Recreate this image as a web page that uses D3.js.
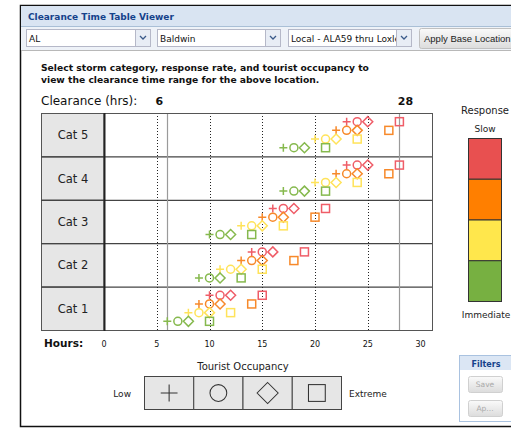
<!DOCTYPE html>
<html>
<head>
<meta charset="utf-8">
<title>Clearance Time Table Viewer</title>
<script src="https://cdn.jsdelivr.net/npm/d3@7"></script>
<style>
  body { margin: 0; background: #fff; font-family: "DejaVu Sans", Verdana, sans-serif; }
  svg text { font-family: "DejaVu Sans", Verdana, sans-serif; }
  svg text.narrow { font-family: "Liberation Sans", Arial, sans-serif; }
</style>
</head>
<body>
<script>
// storm categories, top to bottom
var categories = ["Cat 5", "Cat 4", "Cat 3", "Cat 2", "Cat 1"];
// response rates, slow (top of each row) to immediate (bottom)
var responses = ["Slow", "Moderate", "Fast", "Immediate"];
// tourist occupancy, low to extreme -> marker shape
var occupancy = ["Low", "Medium", "High", "Extreme"];
var hourTicks = [0, 5, 10, 15, 20, 25, 30];

// clearance hours: [response][occupancy]
var cat5 = [[23, 24, 25, 28], [22, 23, 24, 27], [20, 21, 22, 24], [17, 18, 19, 21]];
var cat4 = [[23, 24, 25, 28], [22, 23, 24, 27], [20, 21, 22, 24], [17, 18, 19, 21]];
var cat3 = [[16, 17, 18, 21], [15, 16, 17, 20], [13, 14, 15, 17], [10, 11, 12, 14]];
var cat2 = [[14, 15, 16, 19], [13, 14, 15, 18], [11, 12, 13, 15], [9, 10, 11, 13]];
var cat1 = [[10, 11, 12, 15], [9, 10, 11, 14], [8, 9, 10, 12], [6, 7, 8, 10]];
var clearance = [cat5, cat4, cat3, cat2, cat1];

var legendFill = ["#e85050", "#ff7f00", "#ffe74c", "#77b041"];
var markColor = ["#ef5d68", "#f7892a", "#ffe35a", "#86b94e"];

var width = 511, height = 429;
var svg = d3.select("body").append("svg")
  .attr("width", width).attr("height", height);
var defs = svg.append("defs");

// ---- window chrome ----
svg.append("rect").attr("x", 20.5).attr("y", 5.5).attr("width", 500).attr("height", 421)
  .attr("fill", "#fff").attr("stroke", "#111").attr("stroke-width", 1.5);
svg.append("rect").attr("x", 21).attr("y", 6).attr("width", 490).attr("height", 20)
  .attr("fill", "#d9e4f2");
svg.append("line").attr("x1", 21).attr("x2", 511).attr("y1", 26.5).attr("y2", 26.5).attr("stroke", "#a9bfd6");
svg.append("text").attr("x", 28).attr("y", 20).text("Clearance Time Table Viewer")
  .attr("font-size", 9).attr("font-weight", "bold").attr("fill", "#15428b");
svg.append("rect").attr("x", 21).attr("y", 27).attr("width", 490).attr("height", 23).attr("fill", "#eef2f8");
svg.append("line").attr("x1", 21).attr("x2", 511).attr("y1", 50.5).attr("y2", 50.5).attr("stroke", "#b8b8b8");

var combos = [
  { x: 26, w: 124, label: "AL" },
  { x: 157, w: 123, label: "Baldwin" },
  { x: 288, w: 123, label: "Local - ALA59 thru Loxley" }
];
combos.forEach(function(c, i) {
  var g = svg.append("g");
  defs.append("clipPath").attr("id", "cc" + i).append("rect")
    .attr("x", c.x + 1).attr("y", 29).attr("width", c.w - 16).attr("height", 18);
  g.append("rect").attr("x", c.x + 0.5).attr("y", 29.5).attr("width", c.w).attr("height", 17)
    .attr("fill", "#fff").attr("stroke", "#b5b8c8");
  g.append("rect").attr("x", c.x + c.w - 14.5).attr("y", 29.5).attr("width", 15).attr("height", 17)
    .attr("fill", "#e8edf5").attr("stroke", "#b5b8c8");
  g.append("path").attr("d", "M" + (c.x + c.w - 10) + ",36 l3,3 l3,-3")
    .attr("fill", "none").attr("stroke", "#3a5a8a").attr("stroke-width", 1.3);
  g.append("text").attr("x", c.x + 3).attr("y", 42).text(c.label)
    .attr("clip-path", "url(#cc" + i + ")")
    .attr("font-size", 9).attr("fill", "#111");
});
var grad = defs.append("linearGradient").attr("id", "btn").attr("x1", 0).attr("x2", 0).attr("y1", 0).attr("y2", 1);
grad.append("stop").attr("offset", 0).attr("stop-color", "#fafafa");
grad.append("stop").attr("offset", 1).attr("stop-color", "#dcdcdc");
svg.append("rect").attr("x", 419.5).attr("y", 28.5).attr("width", 100).attr("height", 20).attr("rx", 2)
  .attr("fill", "url(#btn)").attr("stroke", "#c0c0c0");
svg.append("text").attr("class", "narrow").attr("x", 424).attr("y", 42).text("Apply Base Location")
  .attr("font-size", 9.5).attr("fill", "#222");

// ---- instructions ----
svg.append("text").attr("x", 41).attr("y", 71).text("Select storm category, response rate, and tourist occupancy to")
  .attr("font-size", 9.2).attr("font-weight", "bold").attr("fill", "#111");
svg.append("text").attr("x", 41).attr("y", 83).text("view the clearance time range for the above location.")
  .attr("font-size", 9.2).attr("font-weight", "bold").attr("fill", "#111");

// ---- scales ----
var x = d3.scaleLinear().domain([0, 30]).range([104, 420.5]);
var y = d3.scaleBand().domain(categories).range([113, 330]);
var ySub = d3.scalePoint().domain(responses).range([0, y.bandwidth()]).padding(1);
var plotLeft = 104, plotRight = 432;

var allVals = clearance.flat(2);
var minC = d3.min(allVals), maxC = d3.max(allVals);

svg.append("text").attr("x", 41).attr("y", 105).text("Clearance (hrs):")
  .attr("font-size", 12).attr("fill", "#111");
svg.append("text").attr("x", x(minC) - 8).attr("y", 105).text(minC).attr("text-anchor", "middle")
  .attr("font-size", 11).attr("font-weight", "bold").attr("fill", "#111");
svg.append("text").attr("x", x(maxC) + 6).attr("y", 105).text(maxC).attr("text-anchor", "middle")
  .attr("font-size", 11).attr("font-weight", "bold").attr("fill", "#111");

// ---- category rows ----
var rows = svg.append("g");
rows.selectAll("rect.lab").data(categories).enter().append("rect")
  .attr("x", 41.5).attr("y", function(d) { return y(d) + 0.5; })
  .attr("width", plotLeft - 41.5).attr("height", y.bandwidth())
  .attr("fill", "#e6e6e6").attr("stroke", "#555");
rows.selectAll("text.lab").data(categories).enter().append("text")
  .attr("x", 73).attr("y", function(d) { return y(d) + y.bandwidth() / 2 + 4.5; })
  .attr("text-anchor", "middle").attr("font-size", 11.5).attr("fill", "#222")
  .text(function(d) { return d; });

// vertical lines
var grid = svg.append("g");
grid.selectAll("line.dot").data(hourTicks.filter(function(t) { return t > 0 && t < 30; })).enter().append("line")
  .attr("x1", function(d) { return Math.round(x(d)) + 0.5; }).attr("x2", function(d) { return Math.round(x(d)) + 0.5; })
  .attr("y1", 113).attr("y2", 330)
  .attr("stroke", "#222").attr("stroke-dasharray", "1,2");
grid.selectAll("line.rng").data([minC, maxC]).enter().append("line")
  .attr("x1", function(d) { return Math.round(x(d)) + 0.5; }).attr("x2", function(d) { return Math.round(x(d)) + 0.5; })
  .attr("y1", 113).attr("y2", 330)
  .attr("stroke", "#9a9a9a").attr("stroke-width", 1.2);

// row borders
rows.selectAll("line.sep").data(categories.slice(1)).enter().append("line")
  .attr("x1", 41).attr("x2", plotRight).attr("y1", function(d) { return y(d) + 0.5; }).attr("y2", function(d) { return y(d) + 0.5; })
  .attr("stroke", "#444").attr("stroke-width", 1.2);
svg.append("rect").attr("x", plotLeft + 0.5).attr("y", 113.5).attr("width", plotRight - plotLeft).attr("height", 217)
  .attr("fill", "none").attr("stroke", "#555");
svg.append("line").attr("x1", plotLeft + 0.5).attr("x2", plotLeft + 0.5).attr("y1", 113).attr("y2", 331)
  .attr("stroke", "#222").attr("stroke-width", 2);

// ---- markers ----
var shapes = [
  function(g) { g.append("path").attr("d", "M-4,0H4M0,-4V4"); },
  function(g) { g.append("circle").attr("r", 4); },
  function(g) { g.append("path").attr("d", "M0,-5L5,0L0,5L-5,0Z"); },
  function(g) { g.append("rect").attr("x", -4).attr("y", -4).attr("width", 8).attr("height", 8); }
];
var points = [];
clearance.forEach(function(cat, ci) {
  cat.forEach(function(vals, ri) {
    vals.forEach(function(v, oi) {
      points.push({ cat: categories[ci], resp: ri, occ: oi, hours: v });
    });
  });
});
var marks = svg.append("g").selectAll("g").data(points).enter().append("g")
  .attr("transform", function(d) {
    return "translate(" + x(d.hours) + "," + (y(d.cat) + ySub(responses[d.resp])) + ")";
  })
  .attr("fill", "none")
  .attr("stroke", function(d) { return markColor[d.resp]; })
  .attr("stroke-width", 1.5);
marks.each(function(d) { shapes[d.occ](d3.select(this)); });

// ---- hours axis ----
svg.append("text").attr("x", 44).attr("y", 347).text("Hours:")
  .attr("font-size", 10.5).attr("font-weight", "bold").attr("fill", "#111");
svg.selectAll("text.tick").data(hourTicks).enter().append("text")
  .attr("x", function(d) { return x(d); }).attr("y", 347)
  .attr("text-anchor", "middle").attr("font-size", 8).attr("fill", "#111")
  .text(function(d) { return d; });

// ---- response legend ----
svg.append("text").attr("x", 485).attr("y", 114).attr("text-anchor", "middle").text("Response")
  .attr("font-size", 10).attr("fill", "#222");
svg.append("text").attr("x", 485).attr("y", 132).attr("text-anchor", "middle").text("Slow")
  .attr("font-size", 9).attr("fill", "#222");
var ly = d3.scaleBand().domain(responses).range([138, 301]);
svg.selectAll("rect.resp").data(responses).enter().append("rect")
  .attr("x", 468.5).attr("y", function(d) { return ly(d) + 0.5; })
  .attr("width", 33).attr("height", ly.bandwidth())
  .attr("fill", function(d, i) { return legendFill[i]; }).attr("stroke", "#333");
svg.append("text").attr("x", 486).attr("y", 318).attr("text-anchor", "middle").text("Immediate")
  .attr("font-size", 9).attr("fill", "#222");

// ---- occupancy legend ----
svg.append("text").attr("x", 243).attr("y", 370).attr("text-anchor", "middle").text("Tourist Occupancy")
  .attr("font-size", 10).attr("fill", "#222");
var lx = d3.scaleBand().domain(occupancy).range([144, 341]);
var occ = svg.selectAll("g.occ").data(occupancy).enter().append("g")
  .attr("transform", function(d) { return "translate(" + lx(d) + ",376)"; });
occ.append("rect").attr("x", 0.5).attr("y", 0.5).attr("width", lx.bandwidth()).attr("height", 33)
  .attr("fill", "#e6e6e6").attr("stroke", "#444");
occ.each(function(d, i) {
  var g = d3.select(this).append("g")
    .attr("transform", "translate(" + (lx.bandwidth() / 2 + 0.5) + ",17) scale(2.1)")
    .attr("fill", "none").attr("stroke", "#333").attr("stroke-width", 0.5);
  shapes[i](g);
});
svg.append("text").attr("x", 131).attr("y", 397).attr("text-anchor", "end").text("Low")
  .attr("font-size", 9).attr("fill", "#222");
svg.append("text").attr("x", 349).attr("y", 397).text("Extreme")
  .attr("font-size", 9).attr("fill", "#222");

// ---- filters panel ----
svg.append("rect").attr("x", 459.5).attr("y", 355.5).attr("width", 60).attr("height", 66)
  .attr("fill", "#fff").attr("stroke", "#a9c2e0");
svg.append("rect").attr("x", 460).attr("y", 356).attr("width", 51).attr("height", 14).attr("fill", "#dbe6f4");
svg.append("text").attr("x", 486).attr("y", 367).attr("text-anchor", "middle").text("Filters")
  .attr("font-size", 8).attr("font-weight", "bold").attr("fill", "#15428b");
[["Save", 376], ["Ap...", 400]].forEach(function(b) {
  svg.append("rect").attr("x", 468.5).attr("y", b[1] + 0.5).attr("width", 34).attr("height", 16).attr("rx", 2)
    .attr("fill", "url(#btn)").attr("stroke", "#d0d0d0");
  svg.append("text").attr("x", 485).attr("y", b[1] + 11).attr("text-anchor", "middle").text(b[0])
    .attr("font-size", 7.5).attr("fill", "#aaa");
});
</script>
</body>
</html>
